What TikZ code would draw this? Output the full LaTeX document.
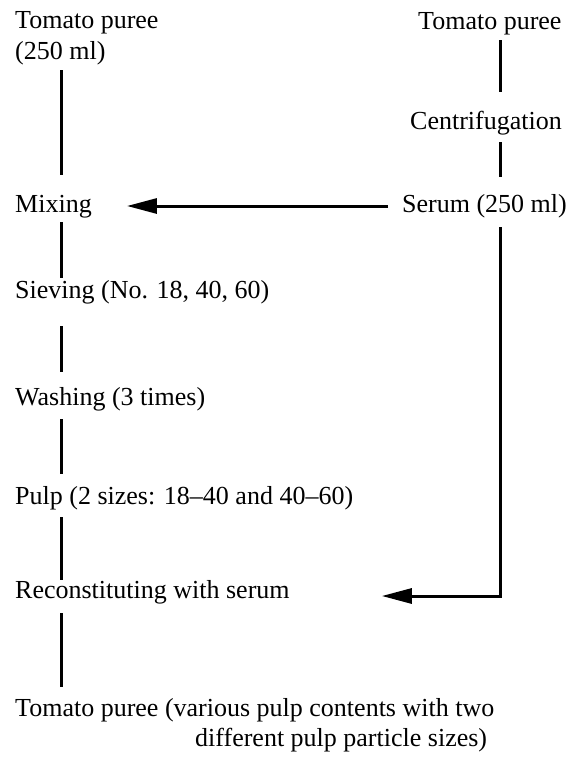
\documentclass[tikz,border=0pt]{standalone}
\usepackage{fontspec}
\setmainfont{Liberation Serif}
\usetikzlibrary{arrows.meta}
\begin{document}
\begin{tikzpicture}[x=1pt,y=-1pt,
  lbl/.style={anchor=base west, inner sep=0pt, font=\fontsize{26}{32}\selectfont, text height=18pt, text depth=6pt},
  conn/.style={line width=3pt},
  arr/.style={line width=3pt, -{Triangle[length=30pt,width=15pt]}}]
\useasboundingbox (0,0) rectangle (581,758);
\coordinate (spine) at (61,0);
\coordinate (rspine) at (500,0);
% left column
\node[lbl] (tp1) at (15,28) {Tomato puree};
\node[lbl] (ml) at (15,59) {(250 ml)};
\node[lbl] (mix) at (15,212) {Mixing};
\node[lbl] (siev) at (15,298) {Sieving (No. 18, 40, 60)};
\node[lbl] (wash) at (15,405) {Washing (3 times)};
\node[lbl] (pulp) at (15,504) {Pulp (2 sizes: 18--40 and 40--60)};
\node[lbl] (rec) at (15,598) {Reconstituting with serum};
\node[lbl] (out1) at (15,716) {Tomato puree (various pulp contents with two};
\node[lbl] (out2) at (195,746) {different pulp particle sizes)};
% right column
\node[lbl] (tp2) at (418,29) {Tomato puree};
\node[lbl] (cent) at (410,129) {Centrifugation};
\node[lbl] (ser) at (402,212) {Serum (250 ml)};
% left connectors
\draw[conn, shorten <=5pt, shorten >=19pt] (ml.south -| spine) -- (mix.north -| spine);
\draw[conn, shorten <=4pt, shorten >=2pt] (mix.south -| spine) -- (siev.north -| spine);
\draw[conn, shorten <=22pt, shorten >=15pt] (siev.south -| spine) -- (wash.north -| spine);
\draw[conn, shorten <=8pt, shorten >=12pt] (wash.south -| spine) -- (pulp.north -| spine);
\draw[conn, shorten <=7pt, shorten >=0pt] (pulp.south -| spine) -- (rec.north -| spine);
\draw[conn, shorten <=9pt, shorten >=11pt] (rec.south -| spine) -- (out1.north -| spine);
% right connectors
\draw[conn, shorten <=5pt, shorten >=19pt] (tp2.south -| rspine) -- (cent.north -| rspine);
\draw[conn, shorten <=7pt, shorten >=17pt] (cent.south -| rspine) -- (ser.north -| rspine);
% arrows
\draw[arr, shorten <=14pt, shorten >=35pt] (ser.west) -- (mix.east);
\draw[arr, shorten <=9pt, shorten >=92pt] (ser.south -| rspine) |- ([yshift=-4pt]rec.east);
\end{tikzpicture}
\end{document}
